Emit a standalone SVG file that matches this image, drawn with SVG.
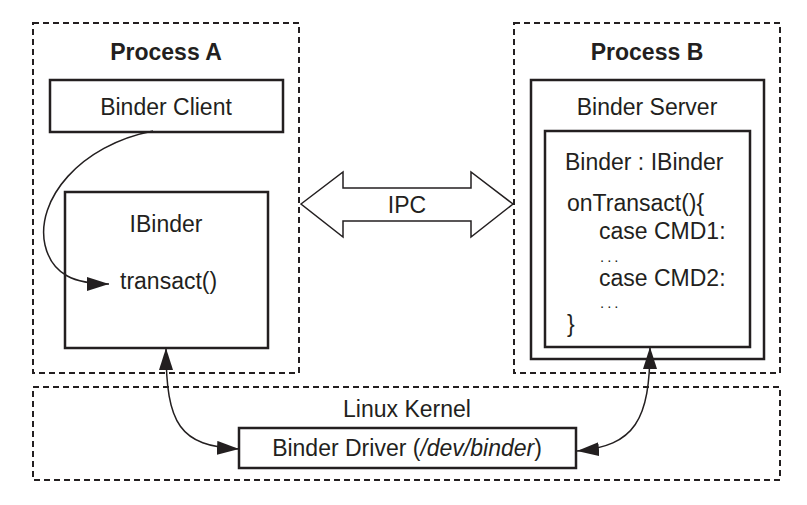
<svg xmlns="http://www.w3.org/2000/svg" width="807" height="505" viewBox="0 0 807 505">
<style>
.dash{fill:none;stroke:#231f20;stroke-width:2;stroke-dasharray:6 4}
.box{fill:#fff;stroke:#231f20;stroke-width:2.5}
.t{font-family:"Liberation Sans",Arial,sans-serif;font-size:23px;fill:#231f20}
.b{font-weight:bold}
.c{text-anchor:middle}
.d{font-size:15px;letter-spacing:3px}
.con{fill:none;stroke:#231f20;stroke-width:1.5}
</style>
<defs>
<marker id="ah" viewBox="0 0 22 14" refX="22" refY="7" markerWidth="22" markerHeight="14" markerUnits="userSpaceOnUse" orient="auto-start-reverse">
<path d="M0,0 L22,7 L0,14 z" fill="#231f20"/>
</marker>
</defs>
<rect width="807" height="505" fill="#fff"/>
<g id="processA">
<rect class="dash" x="33" y="23" width="266" height="350"/>
<text class="t b c" x="166" y="60">Process A</text>
</g>
<g id="binderClient">
<rect class="box" x="50" y="80" width="233" height="52"/>
<text class="t c" x="166" y="115">Binder Client</text>
</g>
<g id="ibinder">
<rect class="box" x="65" y="192" width="203" height="156"/>
<text class="t c" x="166" y="232">IBinder</text>
<text class="t" x="120" y="289">transact()</text>
</g>
<g id="processB">
<rect class="dash" x="514" y="23" width="266" height="350"/>
<text class="t b c" x="647" y="60">Process B</text>
</g>
<g id="binderServer">
<rect class="box" x="531" y="80" width="233" height="279"/>
<text class="t c" x="647" y="115">Binder Server</text>
</g>
<g id="binderImpl">
<rect class="box" x="545" y="131" width="205" height="216"/>
<text class="t" x="565" y="170">Binder : IBinder</text>
<text class="t" x="567" y="211">onTransact(){</text>
<text class="t" x="599" y="239">case CMD1:</text>
<text class="t d" x="600" y="262">...</text>
<text class="t" x="599" y="286">case CMD2:</text>
<text class="t d" x="600" y="308">...</text>
<text class="t" x="567" y="332">}</text>
</g>
<g id="linuxKernel">
<rect class="dash" x="33" y="387" width="747" height="93"/>
<text class="t c" x="407" y="417">Linux Kernel</text>
</g>
<g id="binderDriver">
<rect class="box" x="239" y="428" width="337" height="40"/>
<text class="t c" x="407" y="456">Binder Driver (<tspan font-style="italic">/dev/binder</tspan>)</text>
</g>
<g id="connectors">
<polygon points="301,204 343,172 343,188 471,188 471,172 513,204 471,237 471,221 343,221 343,237" fill="#fff" stroke="#231f20" stroke-width="1.5"/>
<text class="t c" x="407" y="213">IPC</text>
<path class="con" d="M153,131 C80,145 35,200 45,245 C52,275 75,284 109,284" marker-end="url(#ah)"/>
<path class="con" d="M166,348 C166,425 180,446 239,449" marker-start="url(#ah)" marker-end="url(#ah)"/>
<path class="con" d="M650,347 C650,420 635,446 577,451" marker-start="url(#ah)" marker-end="url(#ah)"/>
</g>
</svg>
